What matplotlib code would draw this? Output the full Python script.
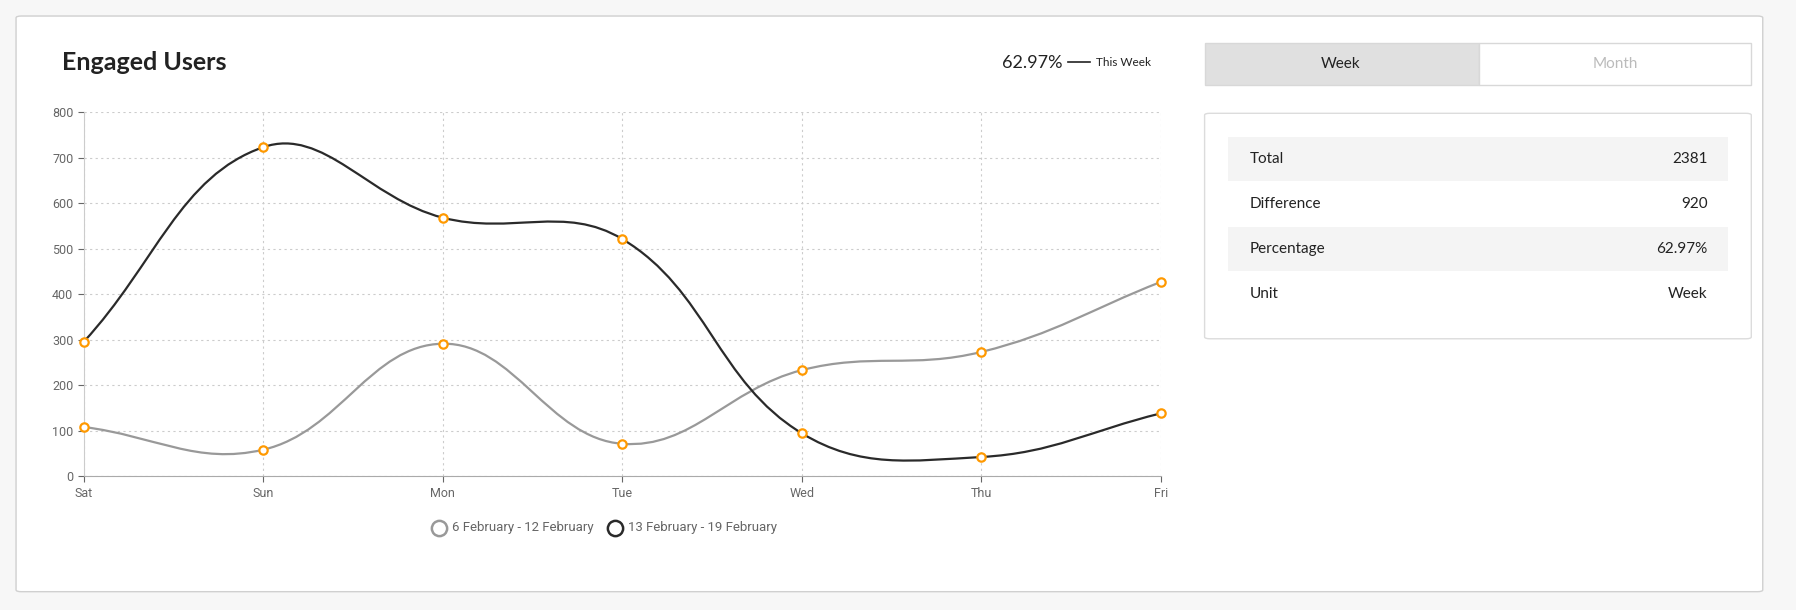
import matplotlib
matplotlib.use("Agg")
import matplotlib.pyplot as plt
import numpy as np
from matplotlib.path import Path
from matplotlib.patches import PathPatch, FancyBboxPatch, Rectangle
from matplotlib.lines import Line2D

days = ["Sat", "Sun", "Mon", "Tue", "Wed", "Thu", "Fri"]
prev_week = [108, 58, 291, 71, 233, 273, 427]
this_week = [295, 723, 568, 521, 94, 42, 138]
prev_label = "6 February - 12 February"
this_label = "13 February - 19 February"
stats_labels = ["Total", "Difference", "Percentage", "Unit"]
stats_values = ["2381", "920", "62.97%", "Week"]

W, H = 1567, 533
fig = plt.figure(figsize=(17.96, 6.10), dpi=100)
fig.patch.set_facecolor("#f7f7f7")
FONT = "Lato"

def fx(x): return x / W
def fy(y): return 1 - y / H

# card
fig.patches.append(FancyBboxPatch((fx(14), fy(517)), fx(1524), (503) / H,
    boxstyle="round,pad=0,rounding_size=0.003", transform=fig.transFigure,
    facecolor="white", edgecolor="#d0d0d0", linewidth=1.0, zorder=0))

fig.text(fx(54), fy(55), "Engaged Users", fontsize=18, fontfamily=FONT, fontweight="bold", va="center", color="#222")
fig.text(fx(927), fy(55), "62.97%", fontsize=13, fontfamily=FONT, va="center", ha="right", color="#222")
fig.lines.append(Line2D([fx(932), fx(951)], [fy(54), fy(54)], transform=fig.transFigure, color="#222", lw=1.2))
fig.text(fx(956), fy(55), "This Week", fontsize=8.5, fontfamily=FONT, va="center", color="#222")

# toggle buttons
fig.patches.append(Rectangle((fx(1051), fy(74)), fx(239), 36 / H, transform=fig.transFigure,
    facecolor="#e0e0e0", edgecolor="#d8d8d8", lw=1))
fig.patches.append(Rectangle((fx(1290), fy(74)), fx(238), 36 / H, transform=fig.transFigure,
    facecolor="white", edgecolor="#d8d8d8", lw=1))
fig.text(fx(1170), fy(56), "Week", fontsize=11, fontfamily=FONT, ha="center", va="center", color="#222")
fig.text(fx(1409), fy(56), "Month", fontsize=11, fontfamily=FONT, ha="center", va="center", color="#bbb")

# stats table
fig.patches.append(FancyBboxPatch((fx(1051), fy(296)), fx(477), 197 / H,
    boxstyle="round,pad=0,rounding_size=0.003", transform=fig.transFigure,
    facecolor="white", edgecolor="#dcdcdc", lw=1))
for i, (lab, val) in enumerate(zip(stats_labels, stats_values)):
    yc = 139 + i * 39.3
    if i % 2 == 0:
        fig.patches.append(Rectangle((fx(1071), fy(yc + 19.5)), fx(437), 39 / H,
            transform=fig.transFigure, facecolor="#f4f4f4", edgecolor="none"))
    fig.text(fx(1090), fy(yc), lab, fontsize=11, fontfamily=FONT, va="center", color="#222")
    fig.text(fx(1490), fy(yc), val, fontsize=11, fontfamily=FONT, va="center", ha="right", color="#222")

# chart
ax = fig.add_axes([fx(73), fy(416), fx(1013) - fx(73), (416 - 98) / H])
ax.set_zorder(10)
ax.patch.set_alpha(0)
x = np.arange(len(days))
ax.set_xlim(0, 6)
ax.set_ylim(0, 800)
sx, sy = 940 / 6, 318 / 800

def spline(vals, t=0.4):
    pts = np.array([[xi * sx, v * sy] for xi, v in zip(x, vals)])
    n = len(pts)
    cps = []
    for i in range(n):
        p1 = pts[i]
        p0 = pts[i - 1] if i > 0 else p1
        p2 = pts[i + 1] if i < n - 1 else p1
        d01 = np.hypot(*(p1 - p0)); d12 = np.hypot(*(p2 - p1))
        tot = d01 + d12
        s01 = d01 / tot if tot else 0; s12 = d12 / tot if tot else 0
        cps.append((p1 - t * s01 * (p2 - p0), p1 + t * s12 * (p2 - p0)))
    verts = [pts[0]]; codes = [Path.MOVETO]
    for i in range(n - 1):
        verts += [cps[i][1], cps[i + 1][0], pts[i + 1]]
        codes += [Path.CURVE4] * 3
    verts = np.array(verts) / np.array([sx, sy])
    return Path(verts, codes)

for vals, col in [(prev_week, "#999999"), (this_week, "#2a2a2a")]:
    ax.add_patch(PathPatch(spline(vals), facecolor="none", edgecolor=col, lw=1.6, zorder=2))
    ax.scatter(x, vals, s=36, facecolor="white", edgecolor="#ff9900", linewidth=1.6, zorder=3, clip_on=False)

ax.set_xticks(x)
ax.set_xticklabels(days)
ax.set_yticks(np.arange(0, 801, 100))
ax.grid(True, linestyle=(0, (2, 3)), color="#cccccc", lw=0.8)
ax.set_axisbelow(True)
for s in ["top", "right"]:
    ax.spines[s].set_visible(False)
ax.spines["left"].set_color("#cccccc")
ax.spines["bottom"].set_color("#aaaaaa")
ax.tick_params(colors="#666", labelsize=9, length=4)
for lab in ax.get_xticklabels() + ax.get_yticklabels():
    lab.set_fontfamily("Roboto")

# legend
for cx, col, txt in [(383, "#999999", prev_label), (537, "#2a2a2a", this_label)]:
    fig.lines.append(Line2D([fx(cx)], [fy(461)], transform=fig.transFigure, marker="o",
        markersize=11, markerfacecolor="white", markeredgecolor=col, markeredgewidth=1.8))
    fig.text(fx(cx + 11), fy(461), txt, fontsize=9.5, fontfamily="Roboto", va="center", color="#666")

fig.savefig("out.png", dpi=100)
